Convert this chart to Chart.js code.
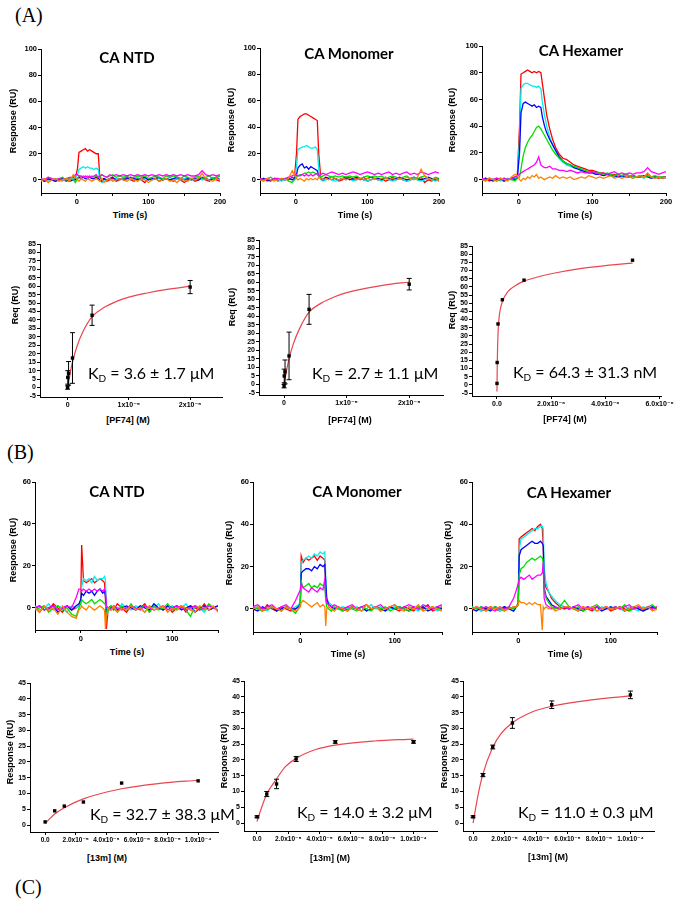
<!DOCTYPE html>
<html>
<head>
<meta charset="utf-8">
<script src="https://cdn.jsdelivr.net/npm/chart.js@4.4.1/dist/chart.umd.min.js"></script>
<style>
  html, body { margin: 0; padding: 0; background: #fff; }
  body { width: 676px; height: 902px; position: relative; overflow: hidden; }
  canvas { position: absolute; }
  .t { position: absolute; white-space: nowrap; color: #000; line-height: 1; }
  .lab { font-family: 'Liberation Serif', serif; font-size: 20px; transform: translateY(-50%); }
  .ttl { font-family: Lato, 'Open Sans', sans-serif; font-weight: 700; font-size: 15px; transform: translate(-50%, -50%); }
  .ax { font-family: 'Liberation Sans', Arial, sans-serif; font-weight: 700; font-size: 9px; transform: translate(-50%, -50%); }
  .axv { font-family: 'Liberation Sans', Arial, sans-serif; font-weight: 700; font-size: 9px; transform: translate(-50%, -50%) rotate(-90deg); }
  .kd { font-family: Lato, 'Open Sans', sans-serif; font-size: 16px; transform: translateY(-50%); }
  .kd sub { font-size: 10px; vertical-align: -3px; line-height: 0; }
</style>
</head>
<body>
<script>
// ---------- data: sensorgrams, row (A), PF74 ----------
const timeA = [-50,-45,-40,-35,-30,-25,-20,-15,-10,-5,
  -2,1,3,6,9,12,15,18,21,24,
  27,30,32,35,38,42,46,50,55,60,
  65,70,75,80,85,90,95,100,105,110,
  115,120,125,130,135,140,145,150,155,160,
  165,170,175,180,185,190,195,200];

// CA NTD
const aNtdRed = [1,-1,0,1,-1,0,1,-1,0,2, 1,9,21,22,23,24,22,23,22,21, 20,20,3,0,1,-1,0,1,-1,0, 1,2,0,-1,1,0,-2,1,0,1, -1,0,1,0,-1,1,0,-2,0,1, -1,0,1,0,-1,1,0,-1];
const aNtdCyan = [0,1,-1,0,1,0,-1,1,0,1, 2,4,8,9,10,9,10,9,9,8, 9,8,0,-2,-1,0,1,0,1,0, 2,1,0,1,2,0,1,1,0,2, 1,0,1,2,0,1,0,1,2,0, 1,2,0,1,0,2,1,0];
const aNtdBlue = [0,-1,1,0,-1,0,1,0,-1,0, 0,1,2,1,2,1,1,2,1,1, 2,1,0,-1,1,0,1,2,0,1, 0,1,2,1,0,1,2,0,1,1, 2,0,1,0,1,2,1,0,1,0, 1,0,2,1,0,1,2,0];
const aNtdGreen = [1,0,2,1,0,1,2,0,1,0, -2,1,3,2,3,2,3,2,3,2, 3,2,2,4,3,2,3,4,2,3, 2,3,1,2,3,2,3,1,2,3, 2,1,3,2,3,2,1,3,2,1, 2,3,1,2,3,1,2,3];
const aNtdMagenta = [1,0,2,1,0,1,0,1,2,2, 4,4,3,3,2,3,2,3,2,3, 4,2,3,4,3,2,4,3,4,3, 4,3,4,3,4,3,4,3,4,3, 4,3,4,3,4,3,4,3,4,3, 3,4,7,4,3,4,3,4];
const aNtdOrange = [-1,1,-2,0,1,-1,0,1,-1,4, 2,0,-1,1,0,-1,1,0,-1,0, 1,0,-1,1,-2,0,1,-1,0,1, 0,-1,1,0,-1,1,0,-2,0,1, -1,0,1,-1,0,-2,1,0,-1,1, 0,1,5,1,0,-1,1,0];

// CA Monomer
const aMonoRed = [0,1,-1,0,1,-1,0,1,0,2, 1,20,46,48,49,50,50,49,48,47, 46,45,20,1,0,2,1,0,1,-1, 0,1,2,0,1,0,2,-1,0,1, 0,1,-1,0,2,0,1,0,-1,0, 1,0,2,-2,0,-1,1,-1];
const aMonoCyan = [0,-1,1,0,1,0,-1,0,1,0, 1,10,23,24,25,25,26,25,24,24, 25,23,8,0,-1,0,1,0,-1,0, 1,0,1,-1,0,1,0,-1,0,1, 0,-1,1,0,-1,0,1,0,-1,0, 1,0,-1,0,1,0,-1,0];
const aMonoBlue = [0,1,0,-1,1,0,1,0,1,0, 1,4,9,11,12,9,10,8,10,9, 8,7,3,1,0,2,1,2,1,0, 1,2,0,1,2,1,0,1,2,1, 1,0,2,1,0,1,2,1,0,1, 2,1,0,1,2,1,0,1];
const aMonoGreen = [1,0,1,2,0,1,0,1,-1,-2, 0,2,3,4,4,5,5,6,5,6, 5,4,3,2,3,4,3,2,3,2, 3,2,3,2,3,1,2,3,2,3, 2,3,1,2,3,2,1,2,3,1, 2,1,2,3,1,0,2,1];
const aMonoMagenta = [1,0,1,0,1,1,0,1,2,3, 4,4,3,3,4,3,4,3,4,3, 4,5,3,4,5,4,5,6,5,4, 5,4,5,6,5,4,5,6,5,4, 5,4,5,6,4,5,4,5,6,4, 5,4,6,5,4,5,6,5];
const aMonoOrange = [0,-1,1,0,-1,0,1,0,1,7, 4,1,0,1,0,-1,1,0,1,0, 1,0,2,1,0,1,0,2,1,0, 1,0,1,2,0,1,0,1,0,1, 0,1,2,0,1,0,1,0,2,1, 0,2,8,3,1,0,1,-1];

// CA Hexamer
const aHexRed = [0,1,-1,0,1,0,-1,0,1,2, 3,40,79,80,81,82,81,80,81,80, 81,80,72,60,48,38,30,24,19,16, 15,13,11,10,9,8,7,7,6,5, 5,4,4,4,3,3,4,3,3,2, 3,2,4,2,2,1,2,2];
const aHexCyan = [0,-1,1,0,1,-1,0,1,0,1, 2,30,68,71,72,72,71,70,70,69, 70,68,58,48,40,32,26,21,16,13, 11,10,9,8,7,6,5,5,4,4, 3,4,3,2,3,2,3,2,1,2, 2,1,3,2,1,2,1,2];
const aHexBlue = [0,1,0,-1,0,1,-1,0,1,0, 1,20,50,57,58,57,56,55,56,54, 55,54,47,40,35,30,26,22,17,14, 12,11,9,8,7,6,5,5,4,4, 3,4,3,3,2,3,2,2,3,2, 2,3,2,1,2,2,1,2];
const aHexGreen = [1,0,1,0,-1,0,1,0,0,-1, 1,2,8,18,24,28,31,33,36,39, 40,38,36,33,30,26,22,19,16,14, 12,11,10,9,8,7,6,6,5,5, 4,5,4,3,4,3,4,3,3,2, 3,2,3,2,3,2,2,1];
const aHexMagenta = [1,0,1,0,1,0,1,0,1,2, 3,4,5,6,7,8,9,10,11,13, 17,11,10,9,9,10,8,8,7,7, 6,7,6,5,6,5,5,6,5,4, 5,4,5,6,4,5,4,5,4,5, 5,6,9,6,5,4,5,6];
const aHexOrange = [0,-1,1,0,-1,1,0,-1,2,4, 3,0,-1,1,0,2,1,3,2,4, 1,2,1,0,1,2,1,3,1,2, 1,2,0,1,2,1,3,2,1,2, 1,2,3,1,2,1,2,3,1,2, 3,2,5,2,1,2,1,2];

// ---------- data: sensorgrams, row (B), 13m ----------
const timeB = [-50,-45,-40,-35,-30,-25,-20,-15,-10,-5,
  -2,0,1,3,6,9,12,15,18,21,
  24,26,27,28,30,33,36,40,45,50,
  55,60,65,70,75,80,85,90,95,100,
  105,110,115,120,125,130,135,140,145,150];

const bNtdRed = [0,-2,1,-1,2,0,-2,1,-1,0, 1,3,30,13,12,13,14,12,13,14, 13,12,4,-10,0,1,-1,2,0,-2, 1,-1,0,2,-2,1,0,-1,1,-2, 0,1,-2,1,0,-1,2,-1,0,1];
const bNtdCyan = [1,-1,0,2,-1,1,0,-2,1,0, 1,2,10,14,13,14,12,15,13,14, 14,15,13,0,-2,1,0,-1,2,0, -1,1,0,-2,1,0,2,-1,0,1, -1,0,2,-1,1,0,-2,1,0,-1];
const bNtdBlue = [0,1,-1,0,1,-2,0,1,-1,1, 2,4,7,6,8,7,8,6,8,9, 7,8,6,-2,-1,0,1,-1,0,1, 0,-1,1,0,-1,2,0,-1,1,0, 1,-1,0,1,-2,0,1,-1,0,1];
const bNtdGreen = [-1,0,1,-2,0,1,-1,0,-3,-4, 0,2,4,3,2,3,4,2,3,4, 3,2,2,-4,-1,1,0,-2,1,-1, 2,-1,0,1,-2,1,-1,0,2,-1, 0,1,-1,-4,1,0,-1,2,0,-1];
const bNtdMagenta = [0,1,-1,0,1,-1,0,1,0,5, 9,9,8,9,8,9,8,9,8,9, 8,9,8,1,0,-1,1,0,-1,0, 1,0,-1,1,0,-1,0,1,-1,0, 1,0,-1,0,1,-1,0,1,0,-1];
const bNtdOrange = [0,-2,1,-1,0,-3,1,-2,-4,-5, -1,0,1,0,-1,1,0,-1,0,1, 0,-1,-10,-4,0,-1,1,-2,0,-1, 1,-1,0,-2,1,-1,0,1,-2,0, -1,1,0,-1,-2,1,0,-1,1,-2];

const bMonoRed = [1,0,-1,2,0,-1,1,0,-1,0, 1,3,25,22,24,23,24,25,23,25, 24,23,10,3,2,1,0,1,-1,0, 1,0,-1,2,0,1,-1,0,1,0, -1,1,0,-1,1,0,2,-1,0,1];
const bMonoCyan = [0,1,0,-1,1,0,-1,1,0,1, 2,3,22,23,24,25,24,26,25,27, 26,27,15,5,3,2,1,0,1,0, 0,1,-1,0,2,0,1,-1,0,1, 0,-1,1,0,-1,1,0,1,-1,0];
const bMonoBlue = [0,-1,1,0,1,-1,0,1,0,0, 1,2,17,18,19,19,18,20,19,21, 20,21,12,5,2,1,0,1,0,-1, 1,0,1,-1,0,1,0,-1,1,0, 1,0,-1,1,0,1,-1,0,1,0];
const bMonoGreen = [1,0,-1,0,1,0,-1,1,0,-2, 0,2,13,10,11,12,10,11,10,12, 11,10,4,1,0,-1,1,0,-1,1, 0,-1,1,0,-1,1,0,1,-1,0, 1,0,-1,0,1,-1,0,1,0,1];
const bMonoMagenta = [1,2,0,1,2,0,1,2,0,4, 7,9,12,10,9,8,10,9,8,10, 9,14,6,3,2,1,2,1,0,1, 2,0,1,2,0,1,2,0,1,2, 0,1,2,1,0,2,1,0,1,2];
const bMonoOrange = [0,1,-1,0,1,0,-1,1,0,-1, 0,1,3,4,3,2,1,2,3,1, 2,1,-8,0,1,0,-1,1,0,-1, 1,0,-1,2,0,1,-1,0,1,2, 0,-1,1,0,2,-1,0,1,0,-1];

const bHexRed = [0,1,-1,0,1,0,-1,1,0,1, 1,3,33,34,35,36,37,38,37,39, 40,38,30,15,10,8,5,3,1,0, 1,0,-1,1,0,-1,1,0,1,-1, 0,1,0,-1,1,0,-1,1,0,1];
const bHexCyan = [1,0,-1,1,0,1,-1,0,1,0, 1,3,28,33,34,35,36,37,38,38, 39,39,38,20,12,8,6,4,2,1, 0,1,-1,0,1,0,-1,1,0,0, 1,0,-1,1,0,-1,1,0,1,0];
const bHexBlue = [0,-1,1,0,-1,1,0,1,0,-1, 1,2,25,28,29,30,31,32,31,31, 32,31,30,10,6,4,2,1,0,1, 0,1,0,-1,1,0,1,-1,0,1, 0,1,-1,0,1,0,-1,0,1,0];
const bHexGreen = [1,0,1,-1,0,1,0,-1,1,0, 1,2,16,19,20,22,23,24,23,24, 25,24,22,9,5,3,1,0,1,4, 1,0,1,-1,0,1,2,0,1,0, 1,0,2,-1,0,1,0,1,2,0];
const bHexMagenta = [0,1,0,1,0,-1,1,0,1,5, 9,12,14,15,14,15,16,14,15,16, 16,17,22,5,2,1,0,1,0,1, 0,1,2,0,1,0,1,0,1,0, 1,0,1,2,0,1,0,1,0,1];
const bHexOrange = [0,1,0,-1,1,0,1,-1,0,1, 1,2,4,3,3,2,3,2,3,2, 2,-10,1,0,1,0,1,-1,0,1, 1,0,-1,1,0,1,-1,0,1,0, 0,1,-1,0,1,2,0,1,-1,0];

// ---------- data: steady-state binding ----------
const pf74ConcNtd = [0.0064e-6, 0.032e-6, 0.16e-6, 0.8e-6, 4e-6, 20e-6];
const pf74ReqNtd = [0, 6, 8.4, 17.5, 42.8, 59.5];
const pf74ErrNtd = [1, 4, 7, 15, 6, 3.9];
const pf74FitNtdX = [0, 0.2e-6, 0.5e-6, 0.8e-6, 1.5e-6, 2.5e-6, 4e-6, 6e-6, 8e-6, 10e-6, 13e-6, 16e-6, 20e-6];
const pf74FitNtdY = [0, 4, 10, 15, 24, 33, 42, 47.5, 51, 53.5, 56, 58, 60];

const pf74ConcMono = [0.0064e-6, 0.032e-6, 0.16e-6, 0.8e-6, 4e-6, 20e-6];
const pf74ReqMono = [-1, 5, 7.4, 16.8, 44.2, 59];
const pf74ErrMono = [1, 4, 7, 14, 8.8, 3.4];
const pf74FitMonoX = [0, 0.2e-6, 0.5e-6, 0.8e-6, 1.5e-6, 2.5e-6, 4e-6, 6e-6, 8e-6, 10e-6, 13e-6, 16e-6, 20e-6];
const pf74FitMonoY = [0, 4, 10, 15, 24, 33, 42.5, 48, 51.5, 54, 56.5, 58.5, 60.3];

const pf74ConcHex = [0.0016e-6, 0.008e-6, 0.04e-6, 0.2e-6, 1e-6, 5e-6];
const pf74ReqHex = [0.9, 13.7, 37.3, 52.1, 64.1, 76.3];
const pf74ErrHex = [0, 0, 0, 0, 0, 0];
const pf74FitHexX = [0, 0.01e-6, 0.02e-6, 0.05e-6, 0.1e-6, 0.2e-6, 0.4e-6, 0.7e-6, 1e-6, 1.5e-6, 2e-6, 3e-6, 4e-6, 5e-6];
const pf74FitHexY = [-4, 10, 20, 35, 44, 51, 57, 61, 63.5, 66, 68, 71, 73, 74.5];

const conc13m = [0, 6.25e-6, 12.5e-6, 25e-6, 50e-6, 100e-6];
const resp13mNtd = [1, 4.5, 6, 7.3, 13.3, 14];
const err13mNtd = [0, 0, 0, 0, 0, 0];
const fit13mNtdX = [0, 6.25e-6, 12.5e-6, 25e-6, 50e-6, 75e-6, 100e-6];
const fit13mNtdY = [0.5, 3.5, 5.5, 8.3, 11.5, 13.2, 14.2];

const resp13mMono = [2, 9.2, 12.4, 20.3, 25.7, 25.7];
const err13mMono = [0.3, 0.8, 1.5, 0.8, 0.4, 0.4];
const fit13mMonoX = [0, 3e-6, 6.25e-6, 9e-6, 12.5e-6, 18e-6, 25e-6, 37.5e-6, 50e-6, 75e-6, 100e-6];
const fit13mMonoY = [0.5, 5, 9.2, 11.5, 14, 17.8, 20.5, 23.3, 24.7, 26, 26.6];

const resp13mHex = [2, 15.2, 24.1, 31.7, 37.5, 40.6];
const err13mHex = [0.3, 0.5, 0.6, 1.7, 1.2, 1.2];
const fit13mHexX = [0, 3e-6, 6.25e-6, 12.5e-6, 18e-6, 25e-6, 37.5e-6, 50e-6, 75e-6, 100e-6];
const fit13mHexY = [0, 8.5, 15.5, 24, 28.5, 31.8, 35.2, 37, 39, 40.3];

// ---------- tick labels ----------
const sensorTicksA = [-50, 0, 50, 100, 150, 200];
const sensorLabelsA = ['', '0', '', '100', '', '200'];
const sensorTicksB = [-50, 0, 50, 100, 150];
const sensorLabelsB = ['', '0', '', '100', ''];
const respTicksA = [0, 20, 40, 60, 80, 100];
const respTicksB = [0, 20, 40, 60];
const reqTicks = [-5, 0, 5, 10, 15, 20, 25, 30, 35, 40, 45, 50, 55, 60, 65, 70, 75, 80, 85];
const pf74Ticks = [0, 1e-5, 2e-5];
const pf74Labels = ['0', '1x10⁻⁵', '2x10⁻⁵'];
const pf74HexTicks = [0, 2e-6, 4e-6, 6e-6];
const pf74HexLabels = ['0.0', '2.0x10⁻⁶', '4.0x10⁻⁶', '6.0x10⁻⁶'];
const resp13mTicks = [0, 5, 10, 15, 20, 25, 30, 35, 40, 45];
const conc13mTicks = [0, 2e-5, 4e-5, 6e-5, 8e-5, 1e-4];
const conc13mLabels = ['0.0', '2.0x10⁻⁵', '4.0x10⁻⁵', '6.0x10⁻⁵', '8.0x10⁻⁵', '1.0x10⁻⁴'];

// trace colours, listed bottom-most first
const traceColors = ['#ff0000', '#00eeee', '#0000ff', '#00e000', '#ff00ff', '#ff8000'];
const fitColor = '#e9464f';
const tickFont = "'Liberation Sans', 'DejaVu Sans', Arial, sans-serif";

// ---------- helpers ----------
function makeCanvas(area, pad) {
  const c = document.createElement('canvas');
  const w = area.r - area.l + pad.l + pad.r;
  const h = area.b - area.t + pad.t + pad.b;
  c.width = w;
  c.height = h;
  c.style.left = (area.l - pad.l) + 'px';
  c.style.top = (area.t - pad.t) + 'px';
  c.style.width = w + 'px';
  c.style.height = h + 'px';
  document.body.appendChild(c);
  return c;
}

function axis(min, max, ticks, labels, size, fit) {
  return {
    type: 'linear', min: min, max: max,
    afterBuildTicks: s => { s.ticks = ticks.map(v => ({ value: v })); },
    afterFit: fit,
    grid: { drawOnChartArea: false, drawTicks: true, tickLength: 3, color: '#000', lineWidth: 1 },
    border: { display: true, color: '#000', width: 1 },
    ticks: {
      autoSkip: false, maxRotation: 0, minRotation: 0, padding: 1, color: '#000',
      font: { family: tickFont, weight: 'bold', size: size },
      callback: (v, i) => labels[i]
    }
  };
}

function drawChart(area, pad, xr, yr, xTicks, xLabels, yTicks, yLabels, fonts, datasets) {
  const canvas = makeCanvas(area, pad);
  return new Chart(canvas, {
    type: 'scatter',
    data: { datasets: datasets },
    options: {
      responsive: false, animation: false, devicePixelRatio: 1,
      layout: { padding: { top: pad.t, right: pad.r, left: 0, bottom: 0 } },
      plugins: { legend: { display: false }, tooltip: { enabled: false } },
      scales: {
        x: axis(xr[0], xr[1], xTicks, xLabels, fonts[0], s => { s.height = pad.b; }),
        y: axis(yr[0], yr[1], yTicks, yLabels, fonts[1], s => { s.width = pad.l; })
      }
    }
  });
}

function traceSets(time, traces) {
  // last listed trace ends up on top
  return traces.map((vals, i) => ({
    data: time.map((t, k) => ({ x: t, y: vals[k] })),
    showLine: true, borderColor: traceColors[i], borderWidth: 1.3,
    pointRadius: 0, tension: 0, order: traces.length - i
  }));
}

function bindingSets(xs, ys, es, fx, fy) {
  const bars = [];
  xs.forEach((x, i) => {
    if (!es[i]) return;
    bars.push({ x: x, y: ys[i] - es[i] }, { x: x, y: ys[i] + es[i] }, { x: x, y: null });
  });
  return [
    { data: xs.map((x, i) => ({ x: x, y: ys[i] })), pointStyle: 'rect', pointRadius: 2.4,
      backgroundColor: '#000', borderColor: '#000', borderWidth: 0, order: 0 },
    { data: bars, showLine: true, spanGaps: false, borderColor: '#000', borderWidth: 1,
      pointStyle: 'line', pointRadius: 2.5, pointBorderColor: '#000', pointBorderWidth: 1, order: 1 },
    { data: fx.map((x, i) => ({ x: x, y: fy[i] })), showLine: true, borderColor: fitColor,
      borderWidth: 1.2, pointRadius: 0, cubicInterpolationMode: 'monotone', order: 2 }
  ];
}

function text(html, cls, x, y) {
  const d = document.createElement('div');
  d.className = 't ' + cls;
  d.innerHTML = html;
  d.style.left = x + 'px';
  d.style.top = y + 'px';
  document.body.appendChild(d);
}

// ---------- row A sensorgrams ----------
const padSA = { l: 36, t: 10, r: 12, b: 16 };
const fSens = [7.5, 7.5];
drawChart({ l: 41, t: 49, r: 220, b: 193 }, padSA, [-50, 200], [-10, 100], sensorTicksA, sensorLabelsA, respTicksA, respTicksA.map(String), fSens,
  traceSets(timeA, [aNtdRed, aNtdCyan, aNtdBlue, aNtdGreen, aNtdMagenta, aNtdOrange]));
drawChart({ l: 260, t: 48, r: 439, b: 193 }, padSA, [-50, 200], [-10, 100], sensorTicksA, sensorLabelsA, respTicksA, respTicksA.map(String), fSens,
  traceSets(timeA, [aMonoRed, aMonoCyan, aMonoBlue, aMonoGreen, aMonoMagenta, aMonoOrange]));
drawChart({ l: 482, t: 46, r: 666, b: 193 }, { l: 36, t: 10, r: 10, b: 16 }, [-50, 200], [-10, 100], sensorTicksA, sensorLabelsA, respTicksA, respTicksA.map(String), fSens,
  traceSets(timeA, [aHexRed, aHexCyan, aHexBlue, aHexGreen, aHexMagenta, aHexOrange]));

// ---------- row A binding ----------
const padBA = { l: 32, t: 10, r: 18, b: 16 };
const fBindA = [7, 7];
drawChart({ l: 40, t: 244, r: 222, b: 397 }, padBA, [-0.45e-5, 2.52e-5], [-5.6, 85], pf74Ticks, pf74Labels, reqTicks, reqTicks.map(String), fBindA,
  bindingSets(pf74ConcNtd, pf74ReqNtd, pf74ErrNtd, pf74FitNtdX, pf74FitNtdY));
drawChart({ l: 259, t: 240, r: 443, b: 395 }, padBA, [-0.4e-5, 2.54e-5], [-6.2, 85], pf74Ticks, pf74Labels, reqTicks, reqTicks.map(String), fBindA,
  bindingSets(pf74ConcMono, pf74ReqMono, pf74ErrMono, pf74FitMonoX, pf74FitMonoY));
drawChart({ l: 472, t: 246, r: 661, b: 396 }, padBA, [-0.92e-6, 6.05e-6], [-6.8, 85], pf74HexTicks, pf74HexLabels, reqTicks, reqTicks.map(String), fBindA,
  bindingSets(pf74ConcHex, pf74ReqHex, pf74ErrHex, pf74FitHexX, pf74FitHexY));

// ---------- row B sensorgrams ----------
const padSB = { l: 30, t: 10, r: 12, b: 16 };
drawChart({ l: 35, t: 482, r: 218, b: 630 }, padSB, [-50, 150], [-10.5, 60], sensorTicksB, sensorLabelsB, respTicksB, respTicksB.map(String), fSens,
  traceSets(timeB, [bNtdRed, bNtdCyan, bNtdBlue, bNtdGreen, bNtdMagenta, bNtdOrange]));
drawChart({ l: 253, t: 482, r: 442, b: 632 }, padSB, [-50, 150], [-10.9, 60], sensorTicksB, sensorLabelsB, respTicksB, respTicksB.map(String), fSens,
  traceSets(timeB, [bMonoRed, bMonoCyan, bMonoBlue, bMonoGreen, bMonoMagenta, bMonoOrange]));
drawChart({ l: 472, t: 482, r: 657, b: 632 }, padSB, [-50, 150], [-10.9, 60], sensorTicksB, sensorLabelsB, respTicksB, respTicksB.map(String), fSens,
  traceSets(timeB, [bHexRed, bHexCyan, bHexBlue, bHexGreen, bHexMagenta, bHexOrange]));

// ---------- row B binding ----------
const padBB = { l: 24, t: 10, r: 18, b: 14 };
const fBindB = [6.5, 7];
drawChart({ l: 30, t: 683, r: 218, b: 832 }, padBB, [-9.9e-6, 113e-6], [-2.2, 45], conc13mTicks, conc13mLabels, resp13mTicks, resp13mTicks.map(String), fBindB,
  bindingSets(conc13m, resp13mNtd, err13mNtd, fit13mNtdX, fit13mNtdY));
drawChart({ l: 244, t: 681, r: 437, b: 831 }, padBB, [-8.3e-6, 115e-6], [-2.5, 45], conc13mTicks, conc13mLabels, resp13mTicks, resp13mTicks.map(String), fBindB,
  bindingSets(conc13m, resp13mMono, err13mMono, fit13mMonoX, fit13mMonoY));
drawChart({ l: 463, t: 681, r: 654, b: 831 }, padBB, [-6.4e-6, 115e-6], [-2.5, 45], conc13mTicks, conc13mLabels, resp13mTicks, resp13mTicks.map(String), fBindB,
  bindingSets(conc13m, resp13mHex, err13mHex, fit13mHexX, fit13mHexY));

// ---------- text ----------
text('(A)', 'lab', 15, 15);
text('(B)', 'lab', 7, 452);
text('(C)', 'lab', 15, 887);

text('CA NTD', 'ttl', 127, 57);
text('CA Monomer', 'ttl', 349, 53);
text('CA Hexamer', 'ttl', 581, 50);
text('CA NTD', 'ttl', 117, 491);
text('CA Monomer', 'ttl', 357, 491);
text('CA Hexamer', 'ttl', 569, 492);

text('Response (RU)', 'axv', 13, 121);
text('Response (RU)', 'axv', 231, 120);
text('Response (RU)', 'axv', 452, 120);
text('Time (s)', 'ax', 130, 215);
text('Time (s)', 'ax', 355, 215);
text('Time (s)', 'ax', 575, 215);

text('Req (RU)', 'axv', 15, 305);
text('Req (RU)', 'axv', 232, 307);
text('Req (RU)', 'axv', 452, 310);
text('[PF74] (M)', 'ax', 128, 420);
text('[PF74] (M)', 'ax', 350, 420);
text('[PF74] (M)', 'ax', 565, 419);

text('Response (RU)', 'axv', 13, 550);
text('Response (RU)', 'axv', 229, 553);
text('Response (RU)', 'axv', 448, 553);
text('Time (s)', 'ax', 127, 652);
text('Time (s)', 'ax', 348, 654);
text('Time (s)', 'ax', 565, 654);

text('Response (RU)', 'axv', 10, 752);
text('Response (RU)', 'axv', 224, 756);
text('Response (RU)', 'axv', 444, 756);
text('[13m] (M)', 'ax', 107, 858);
text('[13m] (M)', 'ax', 330, 858);
text('[13m] (M)', 'ax', 548, 857);

text('K<sub>D</sub> = 3.6 ± 1.7 μM', 'kd', 88, 373);
text('K<sub>D</sub> = 2.7 ± 1.1 μM', 'kd', 312, 373);
text('K<sub>D</sub> = 64.3 ± 31.3 nM', 'kd', 513, 372);
text('K<sub>D</sub> = 32.7 ± 38.3 μM', 'kd', 90, 814);
text('K<sub>D</sub> = 14.0 ± 3.2 μM', 'kd', 297, 812);
text('K<sub>D</sub> = 11.0 ± 0.3 μM', 'kd', 518, 812);
</script>
</body>
</html>
